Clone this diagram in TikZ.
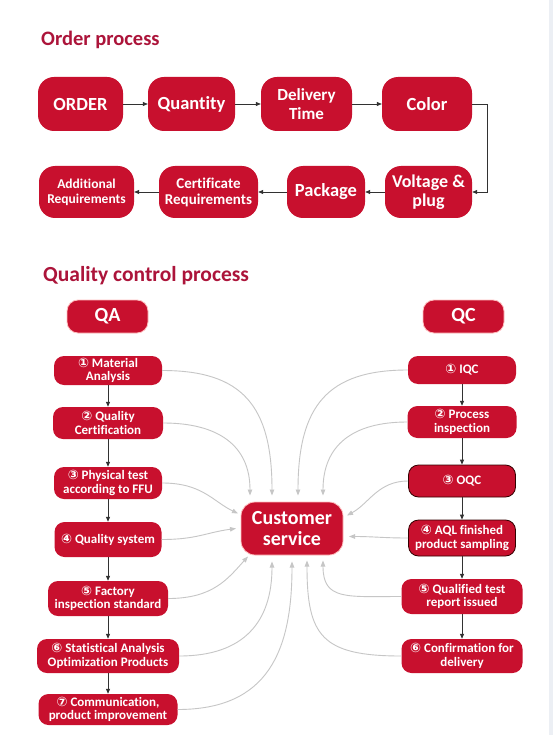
\documentclass[tikz,border=0pt]{standalone}
\usepackage{fontspec}
\setmainfont{Carlito}[Ligatures={NoCommon}]
\newfontfamily\dejavu{DejaVu Sans}
\usetikzlibrary{arrows.meta,calc}
\definecolor{boxred}{RGB}{200,16,46}
\definecolor{titlered}{RGB}{172,20,58}
\definecolor{linkgray}{RGB}{198,198,198}
\definecolor{darkline}{RGB}{50,50,50}
\definecolor{edgeband}{RGB}{236,239,244}
\newcommand{\cnum}[1]{{\dejavu\fontsize{13}{10}\selectfont #1}}
\begin{document}
\begin{tikzpicture}[x=1pt,y=-1pt,
  obox/.style={fill=boxred, rounded corners=16pt, text=white, align=center, inner sep=0pt,
    minimum height=54pt, font=\bfseries\fontsize{18.5}{19}\selectfont},
  hbox/.style={fill=boxred, draw=red!25, line width=0.8pt, rounded corners=11pt, text=white, align=center,
    inner sep=0pt, minimum width=81pt, minimum height=33pt, font=\bfseries\fontsize{20}{21}\selectfont},
  cbox/.style={fill=boxred, rounded corners=10pt, text=white, align=center, inner sep=0pt,
    font=\bfseries\fontsize{13}{13.5}\selectfont},
  dbox/.style={cbox, draw=black!80!red, line width=0.8pt},
  csbox/.style={fill=boxred, draw=red!25, line width=0.8pt, rounded corners=14pt, text=white, align=center,
    inner sep=0pt, minimum width=102pt, minimum height=53pt, font=\bfseries\fontsize{20}{21.5}\selectfont},
  ttl/.style={anchor=base west, text=titlered, inner sep=0pt},
  oarrow/.style={draw=darkline, line width=0.7pt, -{Triangle[length=5pt,width=4pt]}},
  varrow/.style={draw=darkline, line width=0.8pt, -{Triangle[length=5pt,width=4pt]}},
  glink/.style={draw=linkgray, line width=0.9pt, -{Triangle[length=6pt,width=4.5pt]}}
]
\fill[white] (0,0) rectangle (553,735);
\fill[edgeband] (549,0) rectangle (553,735);
\useasboundingbox (0,0) rectangle (553,735);

% ---------- Order process ----------
\node[ttl, font=\bfseries\fontsize{20.5}{22}\selectfont] (t1) at (41,46) {Order process};

\node[obox, minimum width=85pt] (order) at (80.5,104) {ORDER};
\node[obox, minimum width=87pt] (qty) at (191.5,104) {Quantity};
\node[obox, minimum width=91pt, font=\bfseries\fontsize{17}{19}\selectfont] (deliv) at (306.5,104) {Delivery\\Time};
\node[obox, minimum width=90pt] (color) at (427,104) {Color};

\node[obox, minimum width=95pt, minimum height=52pt, font=\bfseries\fontsize{13.5}{15}\selectfont] (addreq) at (86.5,192) {Additional\\Requirements};
\node[obox, minimum width=99pt, minimum height=52pt, font=\bfseries\fontsize{15}{16}\selectfont] (cert) at (208.5,192) {Certificate\\Requirements};
\node[obox, minimum width=78pt, minimum height=52pt] (pkg) at (326,192) {Package};
\node[obox, minimum width=87pt, minimum height=52pt, font=\bfseries\fontsize{18}{19.5}\selectfont] (volt) at (428.5,192) {Voltage \&\\plug};

\draw[oarrow] (order) -- (qty);
\draw[oarrow] (qty) -- (deliv);
\draw[oarrow] (deliv) -- (color);
\draw[oarrow] (color.east) -- ++(15,0) |- (volt.east);
\draw[oarrow] (volt) -- (pkg);
\draw[oarrow] (pkg) -- (cert);
\draw[oarrow] (cert) -- (addreq);

% ---------- Quality control process ----------
\node[ttl, font=\bfseries\fontsize{21.5}{23}\selectfont] (t2) at (43,281) {Quality control process};

\node[hbox] (qa) at (107.5,316.5) {QA};
\node[hbox] (qc) at (463.5,316.5) {QC};

\node[cbox, minimum width=108pt, minimum height=29pt] (m1) at (108,370.5) {\cnum{①} Material\\Analysis};
\node[cbox, minimum width=110pt, minimum height=32pt] (m2) at (108,423) {\cnum{②} Quality\\Certification};
\node[cbox, minimum width=108pt, minimum height=32pt] (m3) at (108,483) {\cnum{③} Physical test\\according to FFU};
\node[cbox, minimum width=107pt, minimum height=35pt] (m4) at (108,539.5) {\cnum{④} Quality system};
\node[cbox, minimum width=120pt, minimum height=35pt] (m5) at (108,598.5) {\cnum{⑤} Factory\\inspection standard};
\node[cbox, minimum width=142pt, minimum height=34pt] (m6) at (108,656) {\cnum{⑥} Statistical Analysis\\Optimization Products};
\node[cbox, minimum width=139pt, minimum height=31pt] (m7) at (108,709.5) {\cnum{⑦} Communication,\\product improvement};

\node[cbox, minimum width=108pt, minimum height=28pt] (q1) at (462,370) {\cnum{①} IQC};
\node[cbox, minimum width=109pt, minimum height=32pt] (q2) at (462,422) {\cnum{②} Process\\inspection};
\node[dbox, minimum width=107pt, minimum height=32pt] (q3) at (462,481) {\cnum{③} OQC};
\node[dbox, minimum width=107pt, minimum height=36pt] (q4) at (462,538) {\cnum{④} AQL finished\\product sampling};
\node[cbox, minimum width=121pt, minimum height=35pt] (q5) at (462,596.5) {\cnum{⑤} Qualified test\\report issued};
\node[cbox, minimum width=121pt, minimum height=34pt] (q6) at (462,656) {\cnum{⑥} Confirmation for\\delivery};

\node[csbox] (cs) at (292,528.5) {Customer\\service};

% vertical flow arrows
\foreach \a/\b in {m1/m2,m2/m3,m3/m4,m4/m5,m5/m6,m6/m7,q1/q2,q2/q3,q3/q4,q4/q5,q5/q6}
  \draw[varrow] (\a.south) -- (\a.south |- \b.north);

% gray links to customer service
\draw[glink] (m1.east) .. controls +(80,0) and +(0,-90) .. ($(cs.center)+(-20,-33)$);
\draw[glink] (m2.east) .. controls +(55,0) and +(0,-50) .. ($(cs.center)+(-42,-33)$);
\draw[glink] (m3.east) .. controls +(40,0) and +(-25,-12) .. ($(cs.center)+(-54,-15)$);
\draw[glink] (m4.east) .. controls +(35,0) and +(-30,4) .. ($(cs.center)+(-56,0)$);
\draw[glink] (m5.east) .. controls +(45,0) and +(-20,22) .. ($(cs.center)+(-44,28)$);
\draw[glink] (m6.east) .. controls +(65,0) and +(0,60) .. ($(cs.center)+(-20,33)$);
\draw[glink] (m7.east) .. controls +(90,0) and +(0,90) .. ($(cs.center)+(0,33)$);

\draw[glink] (q1.west) .. controls +(-80,0) and +(0,-90) .. ($(cs.center)+(6,-33)$);
\draw[glink] (q2.west) .. controls +(-55,0) and +(0,-50) .. ($(cs.center)+(31,-33)$);
\draw[glink] (q3.west) .. controls +(-30,0) and +(22,-12) .. ($(cs.center)+(55,-13)$);
\draw[glink] (q4.west) .. controls +(-25,0) and +(25,0) .. ($(cs.center)+(57,8)$);
\draw[glink] (q5.west) .. controls +(-55,0) and +(0,40) .. ($(cs.center)+(31,32)$);
\draw[glink] (q6.west) .. controls +(-80,0) and +(0,75) .. ($(cs.center)+(15,32)$);
\end{tikzpicture}
\end{document}
